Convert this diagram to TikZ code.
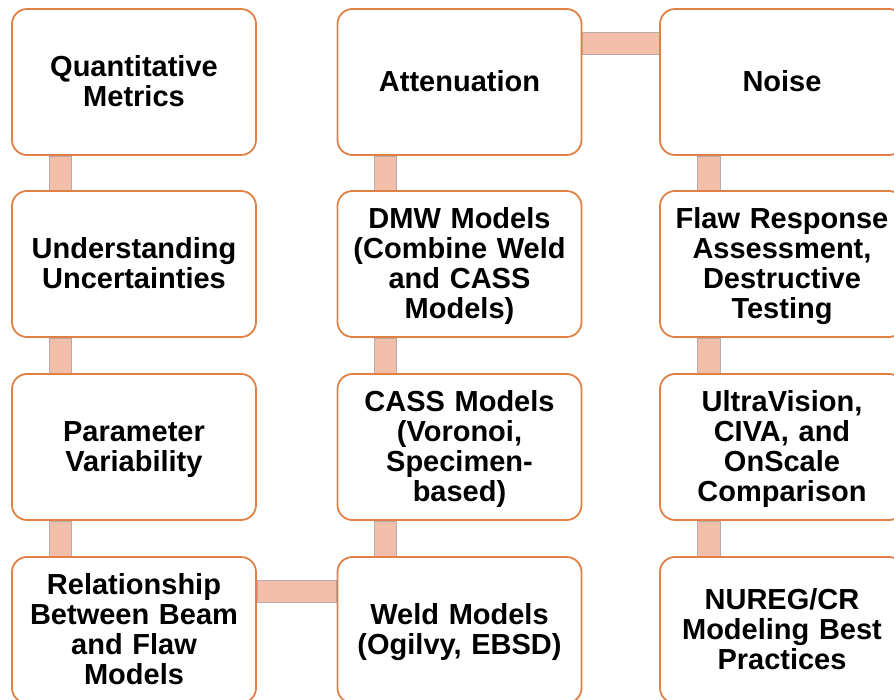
\documentclass[tikz,border=0pt]{standalone}
\usepackage{fontspec}
\setmainfont{Liberation Sans}
\usetikzlibrary{backgrounds}
\definecolor{boxline}{RGB}{224,128,66}
\definecolor{barfill}{RGB}{243,191,171}
\definecolor{baredge}{RGB}{185,172,168}
\newcommand{\topfix}{\rule{0pt}{28pt}}
\newcommand{\botfix}{\rule[-9pt]{0pt}{9pt}}
\begin{document}
\begin{tikzpicture}[x=1pt,y=-1pt,
  box/.style={draw=boxline, line width=1.8pt, rounded corners=15pt, fill=white,
    minimum width=244pt, minimum height=146pt, align=center, inner sep=0pt,
    text width=240pt, font=\fontsize{29}{30}\selectfont\bfseries,
    execute at begin node=\topfix, execute at end node=\botfix},
  bar/.style={fill=barfill, draw=baredge, line width=0.6pt}]
\useasboundingbox (0,0) rectangle (894,700);
\clip (0,0) rectangle (894,700);
% column 1
\node[box] (a1) at (134,82) {Quantitative\\Metrics};
\node[box] (a2) at (134,264) {Understanding\\Uncertainties};
\node[box] (a3) at (134,447) {Parameter\\Variability};
\node[box] (a4) at (134,630) {Relationship\\Between Beam\\and Flaw\\Models};
% column 2
\node[box] (b1) at (459.5,82) {Attenuation};
\node[box] (b2) at (459.5,264) {DMW Models\\(Combine Weld\\and CASS\\Models)};
\node[box] (b3) at (459.5,447) {CASS Models\\(Voronoi,\\Specimen-\\based)};
\node[box] (b4) at (459.5,630) {Weld Models\\(Ogilvy, EBSD)};
% column 3
\node[box] (c1) at (782,82) {Noise};
\node[box] (c2) at (782,264) {Flaw Response\\Assessment,\\Destructive\\Testing};
\node[box] (c3) at (782,447) {UltraVision,\\CIVA, and\\OnScale\\Comparison};
\node[box] (c4) at (782,630) {NUREG/CR\\Modeling Best\\Practices};
\begin{scope}[on background layer]
\path[bar] ([xshift=38pt]a1.south west) rectangle ([xshift=60pt]a2.north west);
\path[bar] ([xshift=38pt]a2.south west) rectangle ([xshift=60pt]a3.north west);
\path[bar] ([xshift=38pt]a3.south west) rectangle ([xshift=60pt]a4.north west);
\path[bar] ([xshift=38pt]b1.south west) rectangle ([xshift=60pt]b2.north west);
\path[bar] ([xshift=38pt]b2.south west) rectangle ([xshift=60pt]b3.north west);
\path[bar] ([xshift=38pt]b3.south west) rectangle ([xshift=60pt]b4.north west);
\path[bar] ([xshift=38pt]c1.south west) rectangle ([xshift=61pt]c2.north west);
\path[bar] ([xshift=38pt]c2.south west) rectangle ([xshift=61pt]c3.north west);
\path[bar] ([xshift=38pt]c3.south west) rectangle ([xshift=61pt]c4.north west);
\path[bar] ([yshift=-24pt]a4.north east) rectangle ([yshift=-46pt]b4.north west);
\path[bar] ([yshift=-24pt]b1.north east) rectangle ([yshift=-46pt]c1.north west);
\end{scope}
\end{tikzpicture}
\end{document}
